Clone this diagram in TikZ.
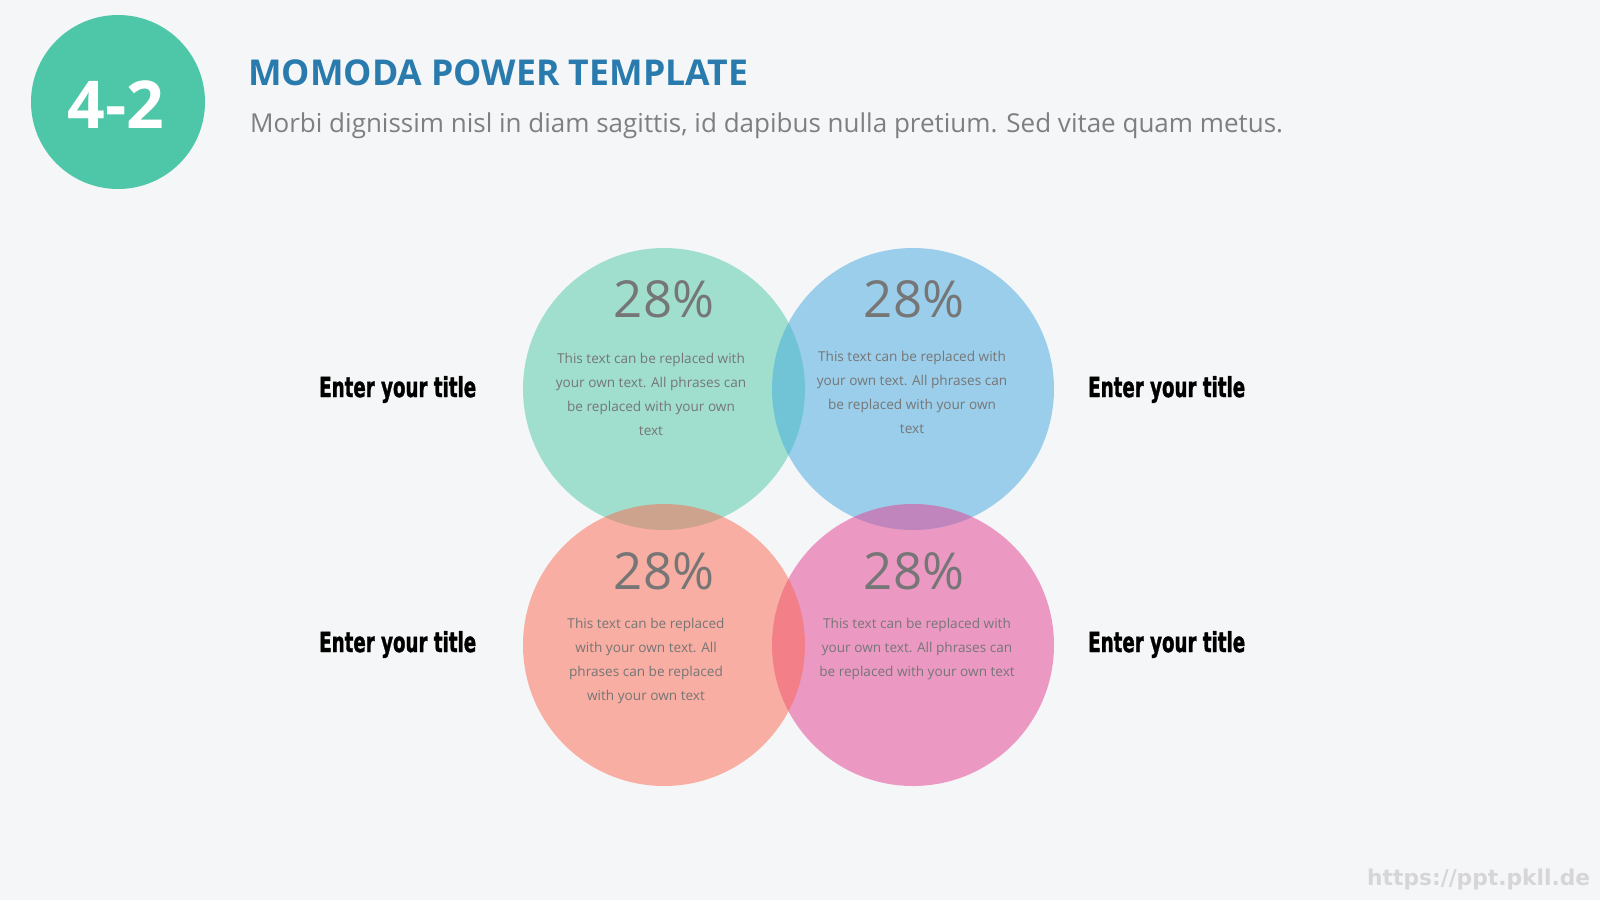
\documentclass[tikz,border=0pt]{standalone}
\usepackage{graphicx}
\usepackage{fontspec}
\setmainfont{Open Sans}
\newfontfamily\condfont[BoldFeatures={FakeBold=1.6}]{DejaVu Sans Condensed}
\newfontfamily\markfont{DejaVu Sans}
\definecolor{bg}{HTML}{F5F6F8}
\definecolor{badge}{HTML}{4EC7A9}
\definecolor{titleblue}{HTML}{2A7BAD}
\definecolor{subgray}{HTML}{7F7F7F}
\definecolor{numgray}{HTML}{767676}
\definecolor{cgreen}{HTML}{4CC9A6}
\definecolor{cblue}{HTML}{43A8DE}
\definecolor{csalmon}{HTML}{FB684E}
\definecolor{cpink}{HTML}{E33E90}
\definecolor{wmark}{HTML}{D6D6D8}
\tikzset{
  bubble/.style={circle, minimum size=282pt, inner sep=0pt, fill opacity=0.5, text opacity=1},
  pct/.style={anchor=base, text=numgray, inner sep=0pt, font=\fontsize{51}{51}\selectfont},
  body/.style={anchor=base, align=center, text=numgray, inner sep=0pt, font=\fontsize{13.6}{24}\selectfont},
  label/.style={anchor=base west, inner sep=0pt},
}
\newcommand{\entertitle}{\resizebox{157pt}{21pt}{\condfont\bfseries Enter your title}}
\begin{document}
\begin{tikzpicture}[x=1pt,y=-1pt]
\useasboundingbox (0,0) rectangle (1600,900);
\fill[bg] (0,0) rectangle (1600,900);

% badge and header
\node[circle, fill=badge, minimum size=174pt, inner sep=0pt] (badge) at (118,102) {};
\node[anchor=base, inner sep=0pt, text=white, font=\fontsize{66}{66}\selectfont\bfseries] (badgetxt) at (116,128) {4-2};
\node[label, text=titleblue, font=\fontsize{35.6}{36}\selectfont\bfseries] (title) at (248,85) {MOMODA POWER TEMPLATE};
\node[label, text=subgray, font=\fontsize{26}{26}\selectfont] (sub) at (250,132) {Morbi dignissim nisl in diam sagittis, id dapibus nulla pretium. Sed vitae quam metus.};

% circles
\node[bubble, fill=cgreen] (cg) at (664,389) {};
\node[bubble, fill=cblue] (cb) at (913,389) {};
\node[bubble, fill=cpink] (cp) at (913,645) {};
\node[bubble, fill=csalmon] (cs) at (664,645) {};

% percentages
\node[pct] (pg) at (664,317) {28\%};
\node[pct] (pb) at (914,317) {28\%};
\node[pct] (ps) at (664,589) {28\%};
\node[pct] (pp) at (914,589) {28\%};

% body texts (base anchor = baseline of last line)
\node[body] (tg) at (651,435) {This text can be replaced with\\your own text. All phrases can\\be replaced with your own\\text};
\node[body] (tb) at (912,433) {This text can be replaced with\\your own text. All phrases can\\be replaced with your own\\text};
\node[body] (ts) at (646,700) {This text can be replaced\\with your own text. All\\phrases can be replaced\\with your own text};
\node[body] (tp) at (917,676) {This text can be replaced with\\your own text. All phrases can\\be replaced with your own text};

% side titles
\node[label] (l1) at (319,397) {\entertitle};
\node[label] (l2) at (319,652) {\entertitle};
\node[label] (r1) at (1088,397) {\entertitle};
\node[label] (r2) at (1088,652) {\entertitle};

% watermark
\node[label, text=wmark] (wm) at (1367,885) {\resizebox{223pt}{!}{\markfont\bfseries https://ppt.pkll.de}};
\end{tikzpicture}
\end{document}
